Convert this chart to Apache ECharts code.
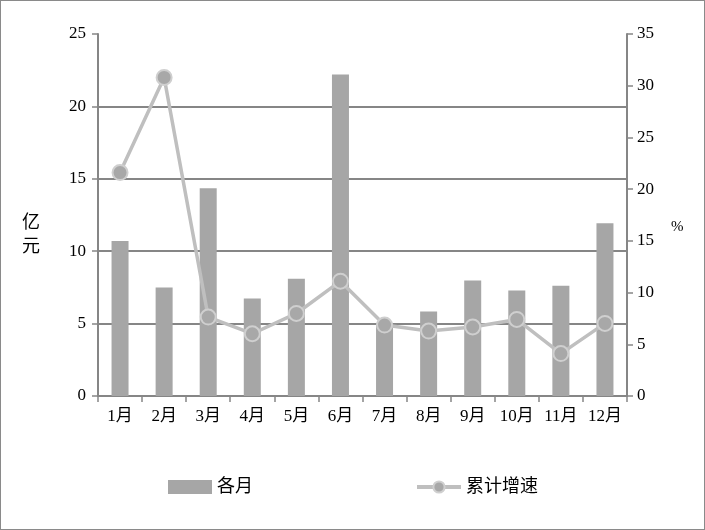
<!DOCTYPE html>
<html><head><meta charset="utf-8">
<script src="https://cdn.jsdelivr.net/npm/echarts@6/dist/echarts.min.js"></script>
<style>html,body{margin:0;padding:0;background:#fff}#c{width:705px;height:530px;box-sizing:border-box;border:1px solid #8a8a8a}</style>
</head><body><div id="c"></div>
<script>
var categories = ['1月','2月','3月','4月','5月','6月','7月','8月','9月','10月','11月','12月'];
var monthly = [10.7, 7.5, 14.35, 6.73, 8.1, 22.2, 5.05, 5.84, 7.97, 7.28, 7.62, 11.93];
var cumulativeGrowth = [21.6, 30.8, 7.63, 6.02, 7.98, 11.1, 6.86, 6.28, 6.67, 7.4, 4.1, 7.02];
var leftAxisName = '亿\n元';
var rightAxisName = '%';
var FONT = '"Liberation Serif", "Noto Sans CJK SC", serif';
var chart = echarts.init(document.getElementById('c'));
chart.setOption({
  animation: false,
  textStyle: {fontFamily: FONT},
  grid: {left: 97, right: 77, top: 33, bottom: 133},
  graphic: [
    {type: 'text', left: 21, top: 210, style: {text: leftAxisName, font: '18px ' + FONT, fill: '#000', lineHeight: 24}},
    {type: 'text', left: 670, top: 219, style: {text: rightAxisName, font: '15px ' + FONT, fill: '#000'}}
  ],
  legend: {
    left: 162, top: 472, itemGap: 162, itemWidth: 44, itemHeight: 14,
    textStyle: {fontSize: 18, color: '#000', fontFamily: FONT},
    data: [{name: '各月', icon: 'rect'}, {name: '累计增速', lineStyle: {width: 4, color: '#bfbfbf'}}]
  },
  xAxis: {
    type: 'category', data: categories,
    axisLine: {lineStyle: {color: '#868686', width: 2}},
    axisTick: {show: true, length: 6, lineStyle: {color: '#868686', width: 1.5}},
    axisLabel: {color: '#000', fontSize: 17, margin: 12, fontFamily: FONT, interval: 0}
  },
  yAxis: [{
    type: 'value', min: 0, max: 25, interval: 5,
    axisLine: {show: true, lineStyle: {color: '#868686', width: 2}},
    axisTick: {show: true, length: 6, lineStyle: {color: '#868686', width: 1.5}},
    axisLabel: {color: '#000', fontSize: 17, margin: 12, fontFamily: FONT},
    splitLine: {show: true, showMaxLine: false, lineStyle: {color: '#868686', width: 2}}
  }, {
    type: 'value', min: 0, max: 35, interval: 5,
    axisLine: {show: true, lineStyle: {color: '#868686', width: 2}},
    axisTick: {show: true, length: 6, lineStyle: {color: '#868686', width: 1.5}},
    axisLabel: {color: '#000', fontSize: 17, margin: 10, fontFamily: FONT},
    splitLine: {show: false}
  }],
  series: [{
    name: '各月', type: 'bar', data: monthly, barWidth: 17,
    itemStyle: {color: '#a6a6a6'}
  }, {
    name: '累计增速', type: 'line', yAxisIndex: 1, data: cumulativeGrowth,
    symbol: 'circle', symbolSize: 15,
    lineStyle: {color: '#bfbfbf', width: 3.5},
    itemStyle: {color: '#a8a8a8', borderColor: '#cfcfcf', borderWidth: 2}
  }]
});
</script></body></html>
